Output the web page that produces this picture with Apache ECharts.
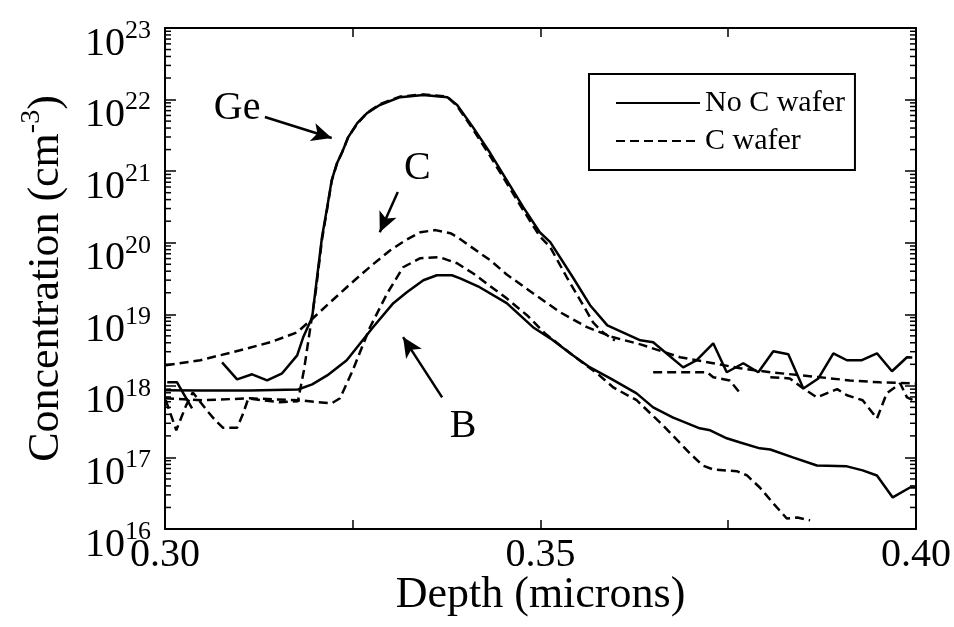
<!DOCTYPE html>
<html>
<head>
<meta charset="utf-8">
<script src="https://cdn.jsdelivr.net/npm/echarts@6/dist/echarts.min.js"></script>
<style>
  html, body { margin: 0; padding: 0; background: #fff; }
  #chart { width: 954px; height: 627px; }
</style>
</head>
<body>
<div id="chart"></div>
<script>
// SIMS depth profiles of Ge, C and B in a wafer without carbon and a carbon-doped wafer.
const depthLabels = [0.30, 0.35, 0.40];
const minorMultipliers = [2, 3, 4, 5, 6, 7, 8, 9];
const decades = [16, 17, 18, 19, 20, 21, 22];

// [depth (microns), concentration (cm^-3)]
const geNoC = [
  [0.3076, 2.13e18], [0.3096, 1.23e18], [0.3116, 1.45e18], [0.3136, 1.19e18], [0.3156, 1.50e18],
  [0.3176, 2.67e18], [0.3184, 4.77e18], [0.3196, 9.1e18], [0.3202, 2.99e19], [0.3209, 1.19e20],
  [0.3216, 3.14e20], [0.3222, 7.5e20], [0.3229, 1.29e21], [0.3236, 1.85e21], [0.3244, 2.99e21],
  [0.3256, 4.69e21], [0.3269, 6.47e21], [0.3286, 8.4e21], [0.3313, 1.08e22], [0.3344, 1.16e22],
  [0.3376, 1.08e22], [0.3389, 8.4e21], [0.3410, 4.12e21], [0.3433, 1.79e21], [0.3455, 7.5e20],
  [0.3477, 3.14e20], [0.3499, 1.40e20], [0.3513, 1.02e20], [0.3543, 3.29e19], [0.3566, 1.34e19],
  [0.3589, 7.0e18], [0.3633, 4.33e18], [0.3650, 4.06e18], [0.3690, 1.81e18], [0.3708, 2.28e18],
  [0.3730, 3.93e18], [0.3748, 1.55e18], [0.3770, 2.07e18], [0.3790, 1.55e18], [0.3810, 3.04e18],
  [0.3830, 2.76e18], [0.3850, 9.2e17], [0.3870, 1.27e18], [0.3890, 2.85e18], [0.3908, 2.28e18],
  [0.3928, 2.28e18], [0.3948, 2.85e18], [0.3968, 1.60e18], [0.3988, 2.51e18], [0.3995, 2.5e18]
];
const geC = [
  [0.3001, 6.3e17], [0.3015, 2.4e17], [0.3028, 5.3e17], [0.3037, 8.1e17], [0.3056, 4.5e17],
  [0.3067, 3.3e17], [0.3077, 2.6e17], [0.3096, 2.6e17], [0.3104, 4.1e17], [0.3111, 6.7e17],
  [0.3129, 6.3e17], [0.3153, 5.9e17], [0.3177, 6.1e17], [0.3185, 1.65e18], [0.3193, 6.0e18],
  [0.3201, 2.2e19], [0.3209, 1.1e20], [0.3216, 3.0e20], [0.3222, 7.3e20], [0.3229, 1.27e21],
  [0.3236, 1.85e21], [0.3244, 3.0e21], [0.3256, 4.6e21], [0.3269, 6.5e21], [0.3286, 8.6e21],
  [0.3313, 1.1e22], [0.3344, 1.18e22], [0.3376, 1.1e22], [0.3389, 8.1e21], [0.3410, 3.86e21],
  [0.3433, 1.62e21], [0.3455, 6.8e20], [0.3477, 2.85e20], [0.3499, 1.23e20], [0.3513, 8.65e19],
  [0.3535, 3.29e19], [0.3553, 1.57e19], [0.3570, 7.7e18], [0.3583, 5.6e18], [0.3599, 4.3e18],
  [0.3620, null],
  [0.3650, 1.55e18], [0.3722, 1.55e18], [0.3730, 1.32e18], [0.3752, 1.19e18], [0.3766, 7.85e17],
  [0.3790, null],
  [0.3806, 1.32e18], [0.3832, 1.27e18], [0.3850, 9.2e17], [0.3868, 6.9e17], [0.3895, 9.0e17],
  [0.3908, 7.4e17], [0.3929, 6.3e17], [0.3948, 3.5e17], [0.3961, 7.85e17], [0.3979, 1.08e18],
  [0.3988, 6.9e17], [0.3996, 6.3e17]
];
const cC = [
  [0.3001, 1.94e18], [0.3047, 2.28e18], [0.3100, 3.14e18], [0.3140, 4.06e18], [0.3176, 5.6e18],
  [0.3197, 8.8e18], [0.3220, 1.47e19], [0.3242, 2.39e19], [0.3260, 3.51e19], [0.3277, 5.0e19],
  [0.3300, 7.85e19], [0.3320, 1.08e20], [0.3340, 1.40e20], [0.3360, 1.50e20], [0.3380, 1.36e20],
  [0.3389, 1.2e20], [0.3410, 8.4e19], [0.3433, 5.69e19], [0.3455, 3.6e19], [0.3490, 1.97e19],
  [0.3526, 1.07e19], [0.3562, 6.6e18], [0.3597, 4.77e18], [0.3633, 3.80e18], [0.3686, 2.51e18],
  [0.3730, 2.07e18], [0.3766, 1.76e18], [0.3806, 1.55e18], [0.3872, 1.32e18], [0.3912, 1.19e18],
  [0.3952, 1.12e18], [0.4000, 1.08e18]
];
const cNoC = [
  [0.3003, 1.12e18], [0.3016, 1.12e18], [0.3036, 4.84e17]
];
const bNoC = [
  [0.3000, 8.65e17], [0.3047, 8.6e17], [0.3113, 8.6e17], [0.3177, 8.9e17], [0.3196, 1.05e18],
  [0.3216, 1.40e18], [0.3242, 2.28e18], [0.3277, 6.6e18], [0.3304, 1.43e19], [0.3322, 2.03e19],
  [0.3344, 2.99e19], [0.3362, 3.51e19], [0.3382, 3.51e19], [0.3393, 3.18e19], [0.3419, 2.39e19],
  [0.3455, 1.43e19], [0.3490, 6.6e18], [0.3513, 4.61e18], [0.3543, 2.67e18], [0.3566, 1.81e18],
  [0.3593, 1.27e18], [0.3628, 7.85e17], [0.3650, 5.0e17], [0.3676, 3.62e17], [0.3712, 2.55e17],
  [0.3726, 2.39e17], [0.3748, 1.85e17], [0.3766, 1.62e17], [0.3792, 1.34e17], [0.3806, 1.29e17],
  [0.3836, 1.0e17], [0.3868, 7.7e16], [0.3908, 7.5e16], [0.3929, 6.6e16], [0.3948, 5.6e16],
  [0.3969, 2.76e16], [0.3992, 3.8e16], [0.4000, 3.8e16]
];
const bC = [
  [0.3000, 6.7e17], [0.3051, 6.3e17], [0.3113, 6.7e17], [0.3177, 6.3e17], [0.3222, 5.7e17],
  [0.3233, 6.7e17], [0.3250, 1.65e18], [0.3273, 6.6e18], [0.3296, 1.97e19], [0.3317, 4.54e19],
  [0.3340, 6.07e19], [0.3366, 6.27e19], [0.3389, 5.16e19], [0.3410, 3.74e19], [0.3455, 1.67e19],
  [0.3482, 9.7e18], [0.3506, 5.4e18], [0.3543, 2.67e18], [0.3575, 1.50e18], [0.3597, 9.5e17],
  [0.3628, 6.3e17], [0.3663, 2.81e17], [0.3699, 1.14e17], [0.3716, 7.7e16], [0.3730, 6.8e16],
  [0.3762, 6.4e16], [0.3775, 5.6e16], [0.3792, 3.8e16], [0.3810, 2.28e16], [0.3828, 1.40e16],
  [0.3842, 1.45e16], [0.3859, 1.32e16]
];

// Species labels with arrows: label anchor, arrow tail, arrow head
const notes = [
  { name: 'Ge', at: [0.3096, 7.6e21], from: [0.3133, 5.7e21], to: [0.3222, 2.9e21] },
  { name: 'C',  at: [0.3336, 1.1e21], from: [0.3310, 5.1e20], to: [0.3286, 1.4e20] },
  { name: 'B',  at: [0.3397, 2.7e17], from: [0.3369, 6.9e17], to: [0.3317, 4.8e18] }
];

const FONT = 'Liberation Serif';
const INK = '#000';
const LW = 2.5;
const DASH = [9, 5];

const minorTickData = [];
decades.forEach(function (n) {
  minorMultipliers.forEach(function (k) { minorTickData.push([0.30, k * Math.pow(10, n)]); });
});

function profile(name, data, dashed) {
  return {
    name: name,
    type: 'line',
    data: data,
    showSymbol: false,
    symbol: 'none',
    connectNulls: false,
    clip: true,
    lineStyle: { color: INK, width: LW, type: dashed ? DASH : 'solid' },
    itemStyle: { color: INK },
    emphasis: { disabled: true },
    z: 3
  };
}

const xTickFormatter = function (v) {
  const k = Math.round(v * 1000);
  return (k % 50 === 0) ? v.toFixed(2) : '';
};

const yTickFormatter = function (v) {
  const e = Math.round(Math.log10(v));
  return '{b|10}{s|' + e + '}';
};

const chart = echarts.init(document.getElementById('chart'), null, { renderer: 'canvas' });

const option = {
  animation: false,
  backgroundColor: '#fff',
  grid: { left: 165, right: 38, top: 28, bottom: 98, containLabel: false },
  xAxis: [
    {
      type: 'value', position: 'bottom', min: 0.30, max: 0.40, interval: 0.025,
      axisLine: { show: true, lineStyle: { color: INK, width: 2 } },
      axisTick: { show: true, inside: true, length: 9, lineStyle: { color: INK, width: 1.5 } },
      splitLine: { show: false },
      axisLabel: {
        show: true, margin: 6, formatter: xTickFormatter,
        fontFamily: FONT, fontSize: 40, color: INK
      },
      name: 'Depth (microns)', nameLocation: 'middle', nameGap: 44, nameMoveOverlap: false,
      nameTextStyle: { fontFamily: FONT, fontSize: 44, color: INK, verticalAlign: 'top' }
    },
    {
      type: 'value', position: 'top', min: 0.30, max: 0.40, interval: 0.025,
      axisLine: { show: true, lineStyle: { color: INK, width: 2 } },
      axisTick: { show: true, inside: true, length: 9, lineStyle: { color: INK, width: 1.5 } },
      splitLine: { show: false },
      axisLabel: { show: false }
    }
  ],
  yAxis: [
    {
      type: 'log', logBase: 10, min: 1e16, max: 1e23, splitNumber: 7, position: 'left',
      axisLine: { show: true, lineStyle: { color: INK, width: 2 } },
      axisTick: { show: true, inside: true, length: 11, lineStyle: { color: INK, width: 1.5 } },
      splitLine: { show: false },
      axisLabel: {
        show: true, margin: 14, formatter: yTickFormatter, padding: [26, 0, 0, 0],
        rich: {
          b: { fontFamily: FONT, fontSize: 40, color: INK, lineHeight: 46, verticalAlign: 'bottom' },
          s: { fontFamily: FONT, fontSize: 26, color: INK, lineHeight: 46, verticalAlign: 'top' }
        }
      },
      name: '{t|Concentration (cm}{s|-3}{t|)}', nameLocation: 'middle', nameGap: 97,
      nameMoveOverlap: false,
      nameTextStyle: {
        rich: {
          t: { fontFamily: FONT, fontSize: 44, color: INK, lineHeight: 50, verticalAlign: 'bottom' },
          s: { fontFamily: FONT, fontSize: 28, color: INK, lineHeight: 50, verticalAlign: 'top' }
        }
      }
    },
    {
      type: 'log', logBase: 10, min: 1e16, max: 1e23, splitNumber: 7, position: 'right',
      axisLine: { show: true, lineStyle: { color: INK, width: 2 } },
      axisTick: { show: true, inside: true, length: 11, lineStyle: { color: INK, width: 1.5 } },
      splitLine: { show: false },
      axisLabel: { show: false }
    }
  ],
  legend: {
    orient: 'vertical', left: 589, top: 74,
    data: ['No C wafer', 'C wafer'],
    selectedMode: false,
    backgroundColor: '#fff',
    borderColor: INK, borderWidth: 2,
    padding: [14, 10, 14, 26],
    itemWidth: 84, itemHeight: 14, itemGap: 8,
    itemStyle: { color: 'rgba(0,0,0,0)', borderWidth: 0, opacity: 0 },
    textStyle: { fontFamily: FONT, fontSize: 30, color: INK, lineHeight: 30 }
  },
  series: [
    profile('No C wafer', geNoC, false),
    profile('No C wafer', bNoC, false),
    profile('No C wafer', cNoC, false),
    profile('C wafer', cC, true),
    profile('C wafer', geC, true),
    profile('C wafer', bC, true),
    {
      name: 'minor ticks',
      type: 'custom',
      data: minorTickData,
      encode: { x: 0, y: 1 },
      clip: false,
      silent: true,
      z: 4,
      renderItem: function (params, api) {
        const cs = params.coordSys;
        const y = api.coord([0.30, api.value(1)])[1];
        const st = { stroke: INK, lineWidth: 1.5 };
        return {
          type: 'group',
          children: [
            { type: 'line', shape: { x1: cs.x, y1: y, x2: cs.x + 6, y2: y }, style: st },
            { type: 'line', shape: { x1: cs.x + cs.width - 6, y1: y, x2: cs.x + cs.width, y2: y }, style: st }
          ]
        };
      }
    },
    {
      name: 'species',
      type: 'line',
      data: [],
      silent: true,
      z: 5,
      markLine: {
        silent: true,
        symbol: ['none', 'arrow'],
        symbolSize: [14, 20],
        label: { show: false },
        lineStyle: { color: INK, width: 2.5, type: 'solid' },
        data: notes.map(function (n) {
          return [{ coord: n.from }, { coord: n.to }];
        })
      },
      markPoint: {
        silent: true,
        symbol: 'circle',
        symbolSize: 1,
        itemStyle: { color: 'rgba(0,0,0,0)' },
        label: {
          show: true, position: 'inside', formatter: '{b}',
          fontFamily: FONT, fontSize: 40, color: INK
        },
        data: notes.map(function (n) {
          return { name: n.name, coord: n.at };
        })
      }
    }
  ]
};

chart.setOption(option);
</script>
</body>
</html>
